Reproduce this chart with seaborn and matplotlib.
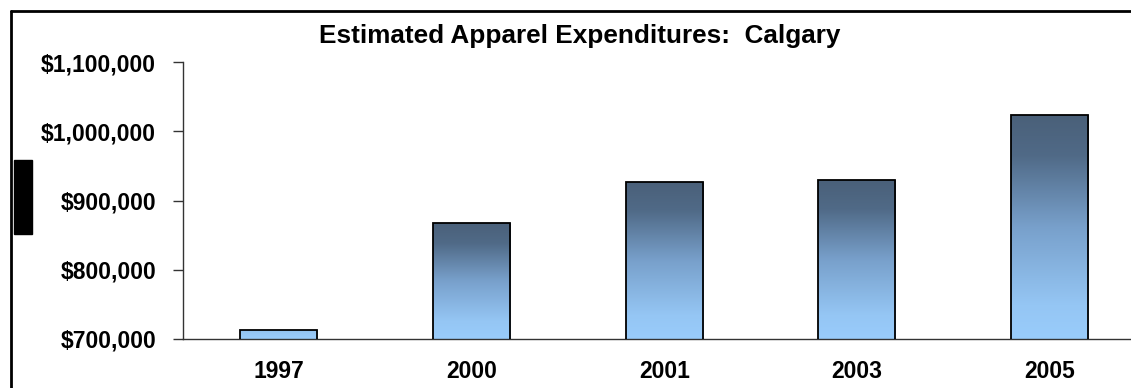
import numpy as np
import pandas as pd
import matplotlib
matplotlib.use('Agg')
import matplotlib.pyplot as plt
import seaborn as sns
import matplotlib.ticker as ticker
import matplotlib.lines as lines
from matplotlib.patches import Rectangle
from matplotlib.colors import LinearSegmentedColormap

years = ['1997', '2000', '2001', '2003', '2005']
spend = [713000, 868000, 927000, 929500, 1024000]
title = 'Estimated Apparel Expenditures:  Calgary'

df = pd.DataFrame({'YEAR': years, 'SPEND': spend})

sns.set_style('white')
plt.rcParams['font.family'] = ['Liberation Sans', 'DejaVu Sans']
plt.rcParams['font.weight'] = 'bold'

W, H = 1131, 388
fig = plt.figure(figsize=(W / 100, H / 100), dpi=100)
ax = fig.add_axes([182.5 / W, 49.3 / H, 963.5 / W, 276.4 / H])

sns.barplot(data=df, x='YEAR', y='SPEND', width=0.4, color='white',
            edgecolor='black', linewidth=1.3, ax=ax)
ymin, ymax = 700000, 1100000
ax.set_ylim(ymin, ymax)

# vertical gradient inside each bar (dark top -> light blue bottom)
cmap = LinearSegmentedColormap.from_list('grad', [
    (0.0, '#99ccfb'), (0.15, '#95c6f4'), (0.5, '#78a0cb'),
    (0.82, '#506a87'), (1.0, '#4a6079')])
for p in ax.patches:
    x0, x1 = p.get_x(), p.get_x() + p.get_width()
    top = p.get_y() + p.get_height()
    bot = max(p.get_y(), ymin)
    # very short bars only reach the light end of the gradient
    frac = min(1.0, (top - bot) / 60000)
    grad = np.linspace(0, frac, 256).reshape(-1, 1)
    p.set_facecolor('none')
    p.set_zorder(3)
    im = ax.imshow(grad, cmap=cmap, vmin=0, vmax=1, aspect='auto', origin='lower',
                   extent=(x0, x1, bot, top), zorder=2, interpolation='bilinear')
    im.set_clip_path(p)
ax.set_xlim(-0.5, 4.5)
ax.set_ylim(ymin, ymax)

sns.despine(ax=ax)
for s in ['left', 'bottom']:
    ax.spines[s].set_color('#333333')
    ax.spines[s].set_linewidth(1.0)

ax.yaxis.set_major_locator(ticker.MultipleLocator(100000))
ax.yaxis.set_major_formatter(ticker.FuncFormatter(lambda v, pos: '${:,.0f}'.format(v)))
ax.tick_params(axis='y', which='major', direction='out', length=7, width=1,
               color='#333333', pad=12, labelsize=16.5, labelcolor='black')
ax.xaxis.set_minor_locator(ticker.FixedLocator([-0.5, 0.5, 1.5, 2.5, 3.5, 4.5]))
ax.tick_params(axis='x', which='minor', direction='out', length=7, width=1, color='#333333')
ax.tick_params(axis='x', which='major', length=0, pad=15.5, labelsize=16.5, labelcolor='black')
ax.tick_params(left=True, bottom=True)
for lab in ax.get_xticklabels() + ax.get_yticklabels():
    lab.set_fontweight('bold')
ax.set_xlabel('')
ax.set_ylabel('')

fig.text(579.5 / W, 1 - 43.5 / H, title, ha='center', va='baseline',
         fontsize=18.8, fontweight='bold', color='black')

# outer frame (cropped) and the black marker on the left
fig.add_artist(lines.Line2D([10.5 / W, 10.5 / W], [0, 1 - 11 / H],
                            transform=fig.transFigure, color='black', lw=2))
fig.add_artist(lines.Line2D([10.5 / W, 1], [1 - 11 / H, 1 - 11 / H],
                            transform=fig.transFigure, color='black', lw=2))
fig.add_artist(Rectangle((14 / W, 1 - 234 / H), 18 / W, 74 / H,
                         transform=fig.transFigure, color='black'))

fig.savefig('out.png', dpi=100)
